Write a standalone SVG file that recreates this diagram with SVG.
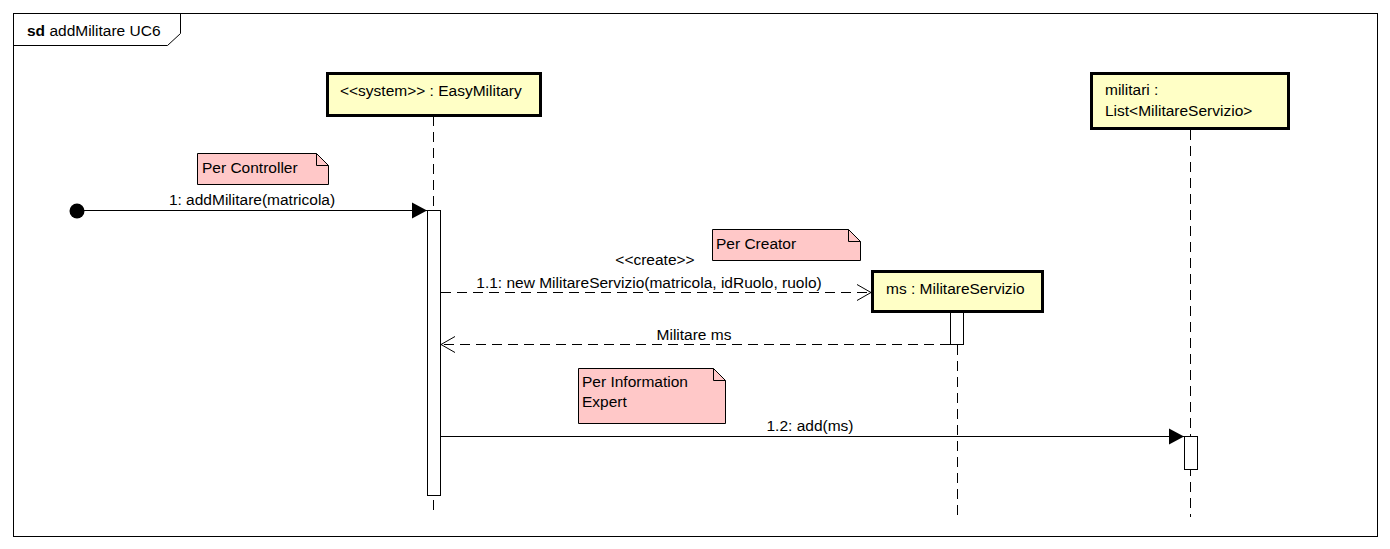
<svg xmlns="http://www.w3.org/2000/svg" width="1390" height="549" viewBox="0 0 1390 549">
<style>
text{font-family:"Liberation Sans",Arial,sans-serif;font-size:15.5px;fill:#000}
.obj{fill:#FFFFC6;stroke:#000;stroke-width:3}
.note{fill:#FFC8C8;stroke:#000;stroke-width:1}
.life{stroke:#000;stroke-width:1;stroke-dasharray:10,6;fill:none}
.act{fill:#fff;stroke:#000;stroke-width:1}
.msg{stroke:#000;stroke-width:1;fill:none}
.dash{stroke-dasharray:10,6}
</style>
<defs>
<marker id="filled" markerWidth="16" markerHeight="18" refX="15" refY="9" orient="auto" markerUnits="userSpaceOnUse"><path d="M0,1 L15,9 L0,17 Z" fill="#000"/></marker>
<marker id="open" markerWidth="16" markerHeight="18" refX="15" refY="9" orient="auto" markerUnits="userSpaceOnUse"><path d="M1,1 L15,9 L1,17" fill="none" stroke="#000" stroke-width="1"/></marker>
</defs>
<rect x="0" y="0" width="1390" height="549" fill="#fff"/>
<g id="frame">
<rect x="13.5" y="13.5" width="1364" height="523" fill="none" stroke="#000"/>
<polyline points="13.5,45.5 167.5,45.5 180.5,33.5 180.5,13.5" fill="none" stroke="#000"/>
<text x="27" y="36"><tspan font-weight="bold">sd</tspan> addMilitare UC6</text>
</g>
<g id="lifelines">
<line class="life" x1="433.5" y1="116" x2="433.5" y2="513"/>
<line class="life" x1="957.5" y1="313" x2="957.5" y2="517"/>
<line class="life" x1="1190.5" y1="130" x2="1190.5" y2="517"/>
</g>
<g id="easymilitary">
<rect class="obj" x="327.5" y="73.5" width="213" height="42"/>
<text x="340" y="96">&lt;&lt;system&gt;&gt; : EasyMilitary</text>
<rect class="act" x="427.5" y="210.5" width="13" height="285"/>
</g>
<g id="militari">
<rect class="obj" x="1091.5" y="73.5" width="197" height="55"/>
<text x="1105" y="95">militari :</text>
<text x="1105" y="116">List&lt;MilitareServizio&gt;</text>
<rect class="act" x="1184.5" y="436.5" width="13" height="33"/>
</g>
<g id="ms">
<rect class="obj" x="872.5" y="271.5" width="170" height="40"/>
<text x="886" y="294">ms : MilitareServizio</text>
<rect class="act" x="950.5" y="312.5" width="13" height="32"/>
</g>
<g id="note-controller">
<path class="note" d="M197.5,153.5 H316.5 L328.5,165.5 V184.5 H197.5 Z"/>
<path d="M316.5,153.5 V165.5 H328.5" fill="none" stroke="#000"/>
<text x="202" y="173">Per Controller</text>
</g>
<g id="note-creator">
<path class="note" d="M712.5,229.5 H848.5 L860.5,241.5 V260.5 H712.5 Z"/>
<path d="M848.5,229.5 V241.5 H860.5" fill="none" stroke="#000"/>
<text x="716" y="249">Per Creator</text>
</g>
<g id="note-expert">
<path class="note" d="M578.5,368.5 H713.5 L725.5,380.5 V423.5 H578.5 Z"/>
<path d="M713.5,368.5 V380.5 H725.5" fill="none" stroke="#000"/>
<text x="582" y="387">Per Information</text>
<text x="582" y="407">Expert</text>
</g>
<g id="connectors">
<circle cx="77" cy="211" r="7.5" fill="#000"/>
<line class="msg" x1="77" y1="210.5" x2="427" y2="210.5" marker-end="url(#filled)"/>
<text x="252" y="205" text-anchor="middle">1: addMilitare(matricola)</text>
<line class="msg dash" x1="441" y1="292.5" x2="871" y2="292.5" marker-end="url(#open)"/>
<text x="655" y="265" text-anchor="middle">&lt;&lt;create&gt;&gt;</text>
<text x="649" y="288" text-anchor="middle">1.1: new MilitareServizio(matricola, idRuolo, ruolo)</text>
<line class="msg dash" x1="950" y1="344.5" x2="441" y2="344.5" marker-end="url(#open)"/>
<text x="694" y="340" text-anchor="middle">Militare ms</text>
<line class="msg" x1="441" y1="436.5" x2="1184" y2="436.5" marker-end="url(#filled)"/>
<text x="810" y="431" text-anchor="middle">1.2: add(ms)</text>
</g>
</svg>
